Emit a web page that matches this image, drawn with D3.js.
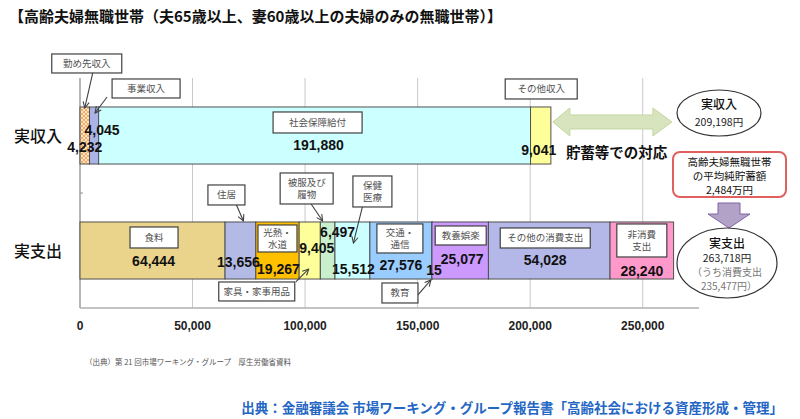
<!DOCTYPE html>
<html><head><meta charset="utf-8">
<script src="https://cdn.jsdelivr.net/npm/d3@7"></script>
<style>
html,body{margin:0;padding:0;background:#fff;}
svg{display:block;}
text{font-family:"Noto Sans CJK JP","Noto Sans",sans-serif;}
.num{font-family:"Liberation Sans",Arial,sans-serif;font-weight:bold;}
</style></head>
<body><svg id="c" width="800" height="419"></svg>
<script>
// ---------- DATA ----------
const title = "【高齢夫婦無職世帯（夫65歳以上、妻60歳以上の夫婦のみの無職世帯）】";
const rows = ["実収入", "実支出"];
const incomeCats = ["勤め先収入", "事業収入", "社会保障給付", "その他収入"];
const incomeValues = [4232, 4045, 191880, 9041];
const expenseCats = ["食料", "住居", "光熱・水道", "家具・家事用品", "被服及び履物", "保健医療", "交通・通信", "教育", "教養娯楽", "その他の消費支出", "非消費支出"];
const expenseValues = [64444, 13656, 19267, 9405, 6497, 15512, 27576, 15, 25077, 54028, 28240];
const xTicks = [0, 50000, 100000, 150000, 200000, 250000];
const totalIncome = "209,198円";
const totalExpense = "263,718円";
const consumptionExpense = "235,477円";
const savings = "2,484万円";

// ---------- STYLE / LAYOUT ----------
const incomeColors = ["url(#hatch)", "#AAB4E6", "#CCFFFF", "#FFFF99"];
const expenseColors = ["#EAD48C", "#B3BAE6", "#FFC000", "#FFFF99", "#C8F0CC", "#CCFFFF", "#99CCFF", "#99CCFF", "#CC99FF", "#B4B8E8", "#FF99CC"];

const svg = d3.select("#c");
const defs = svg.append("defs");
const pat = defs.append("pattern").attr("id","hatch").attr("width",4).attr("height",4)
  .attr("patternUnits","userSpaceOnUse");
pat.append("rect").attr("width",4).attr("height",4).attr("fill","#FCE4C4");
pat.append("path").attr("d","M0,0L4,4M4,0L0,4").attr("stroke","#F0A050").attr("stroke-width",0.8);
const mk = defs.append("marker").attr("id","arr").attr("viewBox","0 0 10 10").attr("refX",9).attr("refY",5)
  .attr("markerWidth",7).attr("markerHeight",7).attr("orient","auto-start-reverse");
mk.append("path").attr("d","M1,1L9,5L1,9").attr("fill","none").attr("stroke","#404040").attr("stroke-width",1.4);

const x = d3.scaleLinear().domain([0, 275000]).range([80, 699]);
const y = d3.scaleBand().domain(rows).range([78, 308]).paddingInner(0.504).paddingOuter(0.252);

// title
svg.append("text").attr("x",9).attr("y",22).attr("font-size",15).attr("font-weight","bold")
  .attr("fill","#111").text(title);

// grid
const g = svg.append("g");
g.selectAll("line.grid").data(xTicks.slice(1)).join("line")
  .attr("x1",d=>x(d)).attr("x2",d=>x(d)).attr("y1",78).attr("y2",308)
  .attr("stroke","#C8C8C8").attr("stroke-width",1);
g.append("line").attr("x1",x(0)).attr("x2",x(0)).attr("y1",78).attr("y2",308).attr("stroke","#909090").attr("stroke-width",1.3);
g.append("line").attr("x1",x(0)).attr("x2",x.range()[1]).attr("y1",308).attr("y2",308).attr("stroke","#B0B0B0").attr("stroke-width",1.3);
g.append("line").attr("x1",x(0)).attr("x2",x(0)+3).attr("y1",y.step()+78).attr("y2",y.step()+78).attr("stroke","#909090");

// x tick labels
g.selectAll("text.tick").data(xTicks).join("text").attr("class","num")
  .attr("x",d=>x(d)).attr("y",330).attr("text-anchor","middle").attr("font-size",12).attr("fill","#222")
  .text(d=>d3.format(",")(d));

// row labels
svg.selectAll("text.row").data(rows).join("text")
  .attr("x",14).attr("y",d=>y(d)+y.bandwidth()/2+6).attr("font-size",16).attr("font-weight",500)
  .attr("fill","#111").text(d=>d);

function stack(cats, vals, colors){
  let c = 0;
  return cats.map((k,i)=>{const s=c; c+=vals[i]; return {cat:k, v:vals[i], s, e:c, color:colors[i]};});
}
const incomeSegs = stack(incomeCats, incomeValues, incomeColors);
const expenseSegs = stack(expenseCats, expenseValues, expenseColors);

function drawBar(segs, row){
  const y0 = y(row), h = y.bandwidth();
  svg.append("g").selectAll("rect").data(segs).join("rect")
    .attr("x",d=>x(d.s)).attr("y",y0).attr("width",d=>Math.max(0.5,x(d.e)-x(d.s))).attr("height",h)
    .attr("fill",d=>d.color).attr("stroke","#505050").attr("stroke-width",1);
}
drawBar(incomeSegs, rows[0]);
drawBar(expenseSegs, rows[1]);

// value label offsets (relative to segment centre, band centre)
const valOff = {
  "勤め先収入":[0,16], "事業収入":[8,-1], "社会保障給付":[4,14], "その他収入":[-2,19],
  "食料":[1,15], "住居":[-2,16], "光熱・水道":[1,23], "家具・家事用品":[7,2], "被服及び履物":[10,-14],
  "保健医療":[1,23], "交通・通信":[0,19], "教育":[2,24], "教養娯楽":[2,13], "その他の消費支出":[-4,14], "非消費支出":[0,25]
};
function drawValues(segs,row){
  const yc = y(row)+y.bandwidth()/2;
  svg.append("g").selectAll("text").data(segs).join("text").attr("class","num")
    .attr("x",d=>(x(d.s)+x(d.e))/2 + valOff[d.cat][0]).attr("y",d=>yc+valOff[d.cat][1])
    .attr("text-anchor","middle").attr("font-size",14).attr("fill","#111")
    .text(d=>d3.format(",")(d.v));
}
drawValues(incomeSegs, rows[0]);
drawValues(expenseSegs, rows[1]);

// callouts: [box centre dx, box top dy from band top, w, h, lines, arrow [sx,sy,ex,ey] rel. to (cx, bandTop)]
const callouts = {
  "勤め先収入":[2,-53,70,19,["勤め先収入"],[8,-34,0,1]],
  "事業収入":[52,-28,68,19,["事業収入"],[13,-10,1,6]],
  "社会保障給付":[3,5,89,21,["社会保障給付"],null],
  "その他収入":[0.5,-28,72,20,["その他収入"],null],
  "食料":[1.5,5,48,21,["食料"],null],
  "住居":[-14,-37,37,20,["住居"],[-4,-17,3,-1]],
  "光熱・水道":[0,3,39,27,["光熱・","水道"],null],
  "家具・家事用品":[-53,60,76,19,["家具・家事用品"],[-14,60,-1,47]],
  "被服及び履物":[-21,-49,53,31,["被服及び","履物"],[-16.5,-18,-5,-1]],
  "保健医療":[20,-46,39,31,["保健","医療"],[10,-15,1,21]],
  "交通・通信":[-1,2,46,29,["交通・","通信"],null],
  "教育":[-32,61,36,20,["教育"],[-14,73,-1,58]],
  "教養娯楽":[0.5,4,51,19,["教養娯楽"],null],
  "その他の消費支出":[-4,6,90,20,["その他の消費支出"],null],
  "非消費支出":[0,2,50,33,["非消費","支出"],null]
};
function drawCallouts(segs,row){
  const y0 = y(row);
  segs.forEach(d=>{
    const c = callouts[d.cat]; if(!c) return;
    const cx = (x(d.s)+x(d.e))/2;
    const gg = svg.append("g");
    const bx = cx + c[0] - c[2]/2, by = y0 + c[1];
    gg.append("rect").attr("x",bx).attr("y",by).attr("width",c[2]).attr("height",c[3])
      .attr("fill","#fff").attr("stroke","#404040").attr("stroke-width",1.2);
    const n = c[4].length;
    c[4].forEach((t,i)=>{
      gg.append("text").attr("x",cx+c[0]).attr("y",by + c[3]/2 + (i-(n-1)/2)*12.5 + 3.3)
        .attr("text-anchor","middle").attr("font-size",9.5).attr("fill","#505050").text(t);
    });
    if(c[5]){
      const a=c[5];
      gg.append("line").attr("x1",cx+a[0]).attr("y1",y0+a[1]).attr("x2",cx+a[2]).attr("y2",y0+a[3])
        .attr("stroke","#404040").attr("stroke-width",1.1).attr("marker-end","url(#arr)");
    }
  });
}
drawCallouts(incomeSegs, rows[0]);
drawCallouts(expenseSegs, rows[1]);

// green double arrow
const incEnd = x(d3.sum(incomeValues));
const ay = y(rows[0]) + 15;
svg.append("path")
  .attr("d",`M${incEnd+2},${ay} L${incEnd+19},${ay-14} L${incEnd+19},${ay-7} L${incEnd+102},${ay-7} L${incEnd+102},${ay-14} L${incEnd+121},${ay} L${incEnd+102},${ay+14} L${incEnd+102},${ay+7} L${incEnd+19},${ay+7} L${incEnd+19},${ay+14} Z`)
  .attr("fill","#D7E4BD").attr("stroke","#C4D6A0").attr("stroke-width",1);
svg.append("text").attr("x",incEnd+15).attr("y",ay+36).attr("font-size",14.5).attr("font-weight","bold")
  .attr("fill","#111").text("貯蓄等での対応");

// income ellipse
svg.append("ellipse").attr("cx",719).attr("cy",113).attr("rx",42).attr("ry",23)
  .attr("fill","#fff").attr("stroke","#333").attr("stroke-width",1.2);
svg.append("text").attr("x",719).attr("y",109).attr("text-anchor","middle").attr("font-size",12).attr("font-weight",500).attr("fill","#111").text(rows[0]);
svg.append("text").attr("x",719).attr("y",126).attr("text-anchor","middle").attr("font-size",10.5).attr("fill","#222").text(totalIncome);

// savings box
svg.append("rect").attr("x",673).attr("y",152).attr("width",113).attr("height",45).attr("rx",7)
  .attr("fill","#fff").attr("stroke","#E06060").attr("stroke-width",2);
[["高齢夫婦無職世帯",166],["の平均純貯蓄額",180],[savings,194]].forEach(t=>{
  svg.append("text").attr("x",729.5).attr("y",t[1]).attr("text-anchor","middle").attr("font-size",10.5).attr("fill","#111").text(t[0]);
});

// purple down arrow
svg.append("path").attr("d","M718,203 L740,203 L740,214 L750,214 L729,228 L708,214 L718,214 Z")
  .attr("fill","#B3A2C7").attr("stroke","#7F64A2").attr("stroke-width",1);

// expense ellipse
svg.append("ellipse").attr("cx",727).attr("cy",263).attr("rx",50).attr("ry",35)
  .attr("fill","#fff").attr("stroke","#333").attr("stroke-width",1.2);
svg.append("text").attr("x",727).attr("y",248).attr("text-anchor","middle").attr("font-size",12).attr("font-weight",500).attr("fill","#111").text(rows[1]);
svg.append("text").attr("x",727).attr("y",262).attr("text-anchor","middle").attr("font-size",10.5).attr("fill","#222").text(totalExpense);
svg.append("text").attr("x",727).attr("y",276).attr("text-anchor","middle").attr("font-size",10).attr("fill","#777").text("（うち消費支出");
svg.append("text").attr("x",729).attr("y",290).attr("text-anchor","middle").attr("font-size",10).attr("fill","#777").text(consumptionExpense+"）");

// sources
svg.append("text").attr("x",85).attr("y",365).attr("font-size",7.5).attr("fill","#555")
  .text("（出典）第 21 回市場ワーキング・グループ　厚生労働省資料");
svg.append("text").attr("x",783).attr("y",413).attr("text-anchor","end").attr("font-size",13.5).attr("font-weight",600)
  .attr("fill","#2466C4").text("出典：金融審議会 市場ワーキング・グループ報告書「高齢社会における資産形成・管理」");
</script></body></html>
